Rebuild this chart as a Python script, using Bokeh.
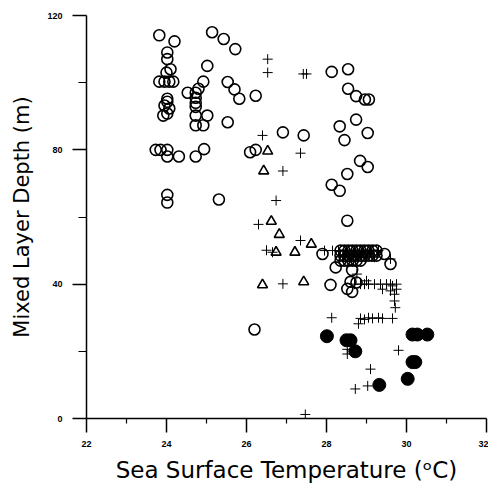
from bokeh.plotting import figure
from bokeh.models import Range1d, FixedTicker
from bokeh.embed import file_html
from bokeh.resources import INLINE

# Open circles
open_t = [23.82, 24.2, 24.02, 24.02, 24.1, 24.0,
          23.82, 23.95, 24.07, 24.17,
          24.02, 23.95, 24.02, 23.92, 24.02, 24.07,
          23.73, 23.85, 24.02, 24.02, 24.31, 24.02, 24.02,
          24.53, 24.73, 24.73, 24.73, 24.73, 24.8, 24.92, 25.02, 24.73, 25.02, 24.73, 24.92, 25.53, 24.94, 24.73, 25.31,
          25.14, 25.43, 25.72, 25.53, 25.7, 25.82, 26.23, 26.09, 26.23, 26.91, 27.43,
          28.13, 28.54, 28.54, 28.74, 28.96, 29.06, 28.74, 28.33, 29.03, 28.45, 28.84, 29.03, 28.52, 28.13, 28.33, 28.52,
          26.2, 27.9, 29.45, 29.6, 28.23, 28.64, 28.1, 28.52, 28.64, 28.6, 28.75,
          28.35, 28.45, 28.55, 28.65, 28.75, 28.85, 28.95, 29.05, 29.15, 29.25,
          28.35, 28.45, 28.55, 28.65, 28.75, 28.85, 28.95, 29.05, 29.15, 29.25,
          28.35, 28.45, 28.55, 28.65, 28.75, 28.85]
open_d = [114.1, 112.3, 109.0, 107.0, 104.0, 103.0,
          100.3, 100.3, 100.3, 100.3,
          95.2, 93.2, 94.3, 90.2, 90.8, 92.3,
          80.0, 80.0, 80.0, 78.0, 78.0, 66.6, 64.3,
          97.0, 97.0, 95.5, 94.0, 92.8, 98.2, 100.3, 105.0, 90.2, 90.2, 87.3, 87.3, 88.2, 80.2, 78.0, 65.2,
          115.0, 113.0, 110.0, 100.2, 98.0, 95.2, 96.1, 79.3, 80.0, 85.2, 84.3,
          103.2, 104.0, 98.2, 96.0, 95.0, 95.0, 89.0, 87.0, 85.0, 82.9, 76.7, 74.9, 72.8, 69.6, 67.8, 58.9,
          26.5, 49.0, 49.0, 46.0, 45.0, 44.2, 39.8, 38.6, 37.7, 40.7, 40.5,
          50.0, 50.0, 50.0, 50.0, 50.0, 50.0, 50.0, 50.0, 50.0, 50.0,
          48.5, 48.5, 48.5, 48.5, 48.5, 48.5, 48.5, 48.5, 48.5, 48.5,
          47.0, 47.0, 47.0, 47.0, 47.0, 47.0]

# Plus signs
plus_t = [26.53, 26.53, 27.5, 27.42, 26.4, 27.35, 26.91, 26.74, 26.3, 27.35, 26.5, 26.91, 26.65,
          27.95, 28.15, 28.3, 28.5, 28.7, 28.9, 29.1, 29.3,
          28.4, 28.6, 28.8, 29.0, 29.2, 29.6, 28.76,
          28.7, 28.85, 28.95, 29.05, 29.2, 29.35, 29.5, 29.6, 29.75,
          29.0, 29.4, 29.6, 29.75, 29.7, 29.7, 29.72, 29.65,
          28.13, 28.85, 28.95, 29.05, 29.15, 29.3, 29.4, 29.65, 28.8,
          29.8, 28.52, 28.52, 29.1, 28.72, 29.03, 27.47]
plus_d = [107.0, 103.0, 102.6, 102.6, 84.3, 79.0, 73.7, 64.9, 57.8, 53.0, 50.1, 40.1, 49.5,
          50.0, 50.0, 50.0, 50.0, 50.0, 50.0, 50.0, 50.0,
          48.0, 48.0, 48.0, 48.0, 48.0, 47.5, 43.0,
          40.0, 40.0, 40.0, 40.0, 40.0, 40.0, 40.0, 40.0, 40.0,
          41.0, 38.5, 38.0, 38.5, 37.0, 35.0, 33.0, 39.5,
          30.0, 29.8, 29.5, 30.0, 29.8, 30.0, 29.8, 29.8, 28.2,
          20.3, 20.6, 19.2, 14.7, 8.8, 9.7, 1.2]

# Triangles
tri_t = [26.53, 26.43, 26.62, 26.82, 27.62, 27.21, 26.74, 26.4, 27.43]
tri_d = [79.6, 73.7, 58.7, 54.8, 51.9, 49.5, 49.5, 39.8, 40.7]

# Filled circles
fill_t = [28.01, 28.5, 28.6, 28.72, 30.15, 30.27, 30.52, 30.15, 30.22, 30.03, 29.32]
fill_d = [24.5, 23.3, 23.3, 20.0, 25.0, 25.0, 25.0, 16.8, 16.8, 11.8, 10.0]

x_major = [22, 24, 26, 28, 30, 32]
x_minor = [23, 25, 27, 29, 31]
y_major = [0, 40, 80, 120]
y_minor = [20, 60, 100]

p = figure(width=488, height=485, output_backend="svg", toolbar_location=None,
           x_range=Range1d(22, 32), y_range=Range1d(0, 120),
           min_border_left=86, min_border_right=2, min_border_top=15, min_border_bottom=64)
p.outline_line_color = None
p.grid.visible = False
p.background_fill_color = "white"

p.scatter(plus_t, plus_d, marker="cross", size=10, line_color="black", line_width=1)
p.scatter(open_t, open_d, marker="circle", size=11, fill_color=None, line_color="black", line_width=1.6)
p.scatter(tri_t, tri_d, marker="triangle", size=10, fill_color=None, line_color="black", line_width=1.6)
p.scatter(fill_t, fill_d, marker="circle", size=13, fill_color="black", line_color="black")

p.xaxis.ticker = FixedTicker(ticks=x_major, minor_ticks=x_minor)
p.yaxis.ticker = FixedTicker(ticks=y_major, minor_ticks=y_minor)

for ax in (p.xaxis, p.yaxis):
    ax.axis_line_color = "black"
    ax.axis_line_width = 1.5
    ax.major_tick_line_color = "black"
    ax.major_tick_line_width = 1.5
    ax.minor_tick_line_color = "black"
    ax.minor_tick_line_width = 1.2
    ax.major_tick_in = 0
    ax.minor_tick_in = 0
    ax.major_tick_out = 14
    ax.major_label_text_font = "Liberation Sans"
    ax.major_label_text_font_style = "bold"
    ax.major_label_text_font_size = "9px"
    ax.major_label_text_color = "black"
    ax.axis_label_text_font = "DejaVu Sans"
    ax.axis_label_text_font_style = "normal"
    ax.axis_label_text_color = "black"

p.xaxis.axis_label_text_font_size = "23px"
p.yaxis.axis_label_text_font_size = "21px"
p.xaxis.minor_tick_out = 5
p.yaxis.minor_tick_out = 8
p.xaxis.major_label_standoff = 8
p.yaxis.major_label_standoff = 10
p.xaxis.axis_label = "Sea Surface Temperature (\u1d52C)"
p.yaxis.axis_label = "Mixed Layer Depth (m)"
p.xaxis.axis_label_standoff = 7
p.yaxis.axis_label_standoff = 10

open("out.html", "w").write(file_html(p, INLINE))
